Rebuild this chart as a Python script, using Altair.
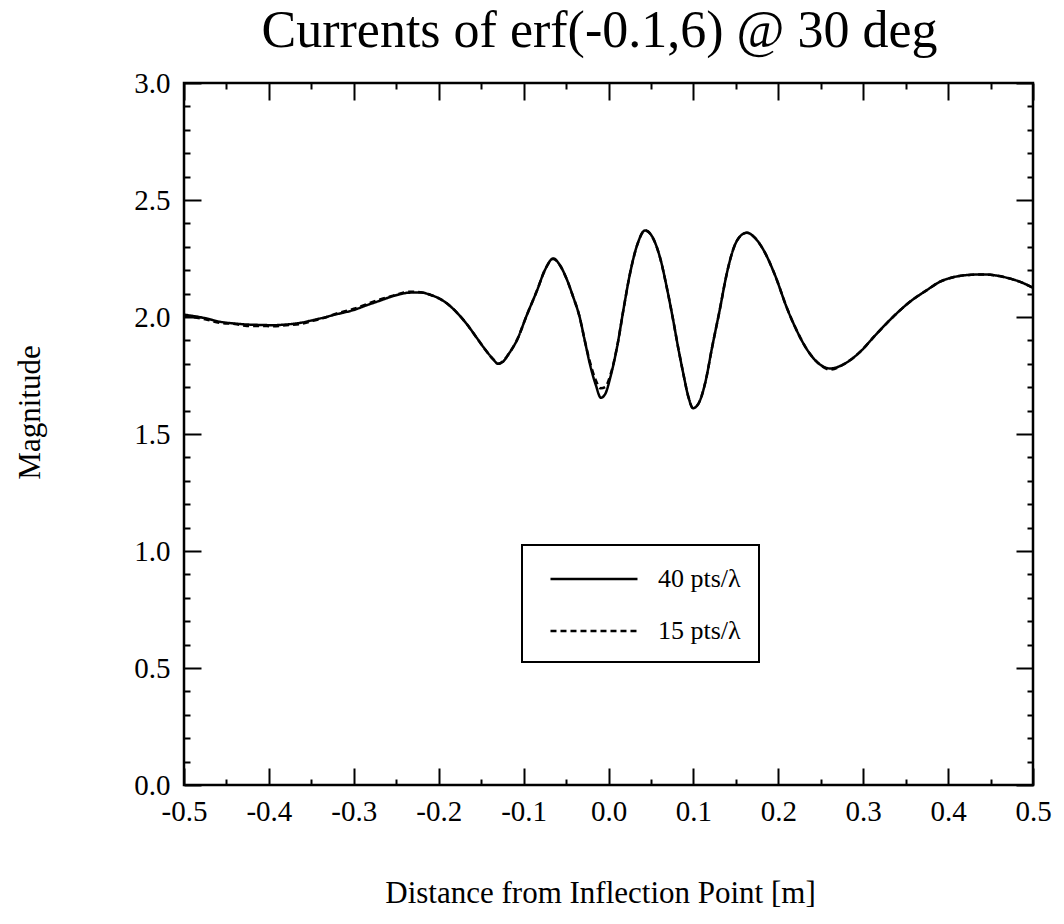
import altair as alt
import pandas as pd

# ---- data ----
x_vals = [-0.5, -0.475, -0.458, -0.44, -0.426, -0.41, -0.395, -0.38, -0.363, -0.35,
          -0.336, -0.32, -0.30, -0.285, -0.269, -0.255, -0.246, -0.235, -0.222, -0.21,
          -0.195, -0.183, -0.167, -0.155, -0.145, -0.136, -0.130, -0.124, -0.118, -0.108,
          -0.096, -0.084, -0.075, -0.065, -0.057, -0.049, -0.042, -0.034, -0.028, -0.022,
          -0.015, -0.009, -0.004, 0.002, 0.010, 0.018, 0.025, 0.034, 0.043, 0.052,
          0.061, 0.069, 0.076, 0.082, 0.088, 0.094, 0.0995, 0.106, 0.114, 0.122,
          0.131, 0.139, 0.147, 0.155, 0.163, 0.172, 0.182, 0.196, 0.210, 0.222,
          0.234, 0.248, 0.261, 0.278, 0.296, 0.315, 0.335, 0.355, 0.375, 0.39,
          0.406, 0.425, 0.441, 0.455, 0.469, 0.485, 0.5]

y_40 = [2.01, 1.995, 1.98, 1.972, 1.968, 1.966, 1.965, 1.968, 1.975, 1.985,
        1.997, 2.012, 2.03, 2.05, 2.07, 2.088, 2.097, 2.104, 2.105, 2.095,
        2.07, 2.035, 1.97, 1.91, 1.86, 1.82, 1.80, 1.81, 1.84, 1.90,
        2.01, 2.115, 2.20, 2.25, 2.22, 2.16, 2.09, 2.00, 1.90, 1.80,
        1.71, 1.655, 1.67, 1.74, 1.87, 2.04, 2.18, 2.31, 2.37, 2.34,
        2.25, 2.12, 1.99, 1.87, 1.76, 1.66, 1.61, 1.63, 1.72, 1.87,
        2.03, 2.18, 2.29, 2.345, 2.36, 2.34, 2.29, 2.18, 2.04, 1.94,
        1.86, 1.80, 1.78, 1.80, 1.85, 1.925, 2.0, 2.065, 2.115, 2.15,
        2.17, 2.18, 2.182, 2.178, 2.168, 2.15, 2.125]

y_15 = [2.005, 1.99, 1.975, 1.97, 1.962, 1.962, 1.96, 1.965, 1.97, 1.982,
        1.995, 2.015, 2.035, 2.055, 2.075, 2.09, 2.10, 2.108, 2.106, 2.095,
        2.07, 2.035, 1.97, 1.91, 1.86, 1.82, 1.80, 1.812, 1.84, 1.90,
        2.01, 2.115, 2.20, 2.248, 2.22, 2.16, 2.09, 2.00, 1.90, 1.81,
        1.73, 1.695, 1.70, 1.75, 1.87, 2.04, 2.18, 2.31, 2.37, 2.34,
        2.25, 2.12, 1.99, 1.87, 1.76, 1.66, 1.612, 1.63, 1.72, 1.87,
        2.03, 2.18, 2.29, 2.345, 2.36, 2.34, 2.29, 2.18, 2.04, 1.94,
        1.86, 1.80, 1.775, 1.80, 1.85, 1.925, 2.0, 2.065, 2.115, 2.15,
        2.17, 2.18, 2.182, 2.178, 2.168, 2.15, 2.125]

series_names = ["40 pts/\u03bb", "15 pts/\u03bb"]
chart_title = "Currents of erf(-0.1,6) @ 30 deg"

x_major = [-0.5, -0.4, -0.3, -0.2, -0.1, 0.0, 0.1, 0.2, 0.3, 0.4, 0.5]
x_minor = [-0.45, -0.35, -0.25, -0.15, -0.05, 0.05, 0.15, 0.25, 0.35, 0.45]
y_major = [0.0, 0.5, 1.0, 1.5, 2.0, 2.5, 3.0]
y_minor = [0.1, 0.2, 0.3, 0.4, 0.6, 0.7, 0.8, 0.9, 1.1, 1.2, 1.3, 1.4, 1.6, 1.7, 1.8,
           1.9, 2.1, 2.2, 2.3, 2.4, 2.6, 2.7, 2.8, 2.9]

df = pd.concat([
    pd.DataFrame({"x": x_vals, "y": y_40, "series": series_names[0]}),
    pd.DataFrame({"x": x_vals, "y": y_15, "series": series_names[1]}),
], ignore_index=True)

W, H = 849, 702
FONT = "Liberation Serif"
MAJ, MIN = 17, 6

xscale = alt.Scale(domain=[-0.5, 0.5], nice=False, zero=False)
yscale = alt.Scale(domain=[0, 3], nice=False, zero=False)

fix_minus = "replace(datum.label, '\u2212', '-')"

base = alt.Chart(df)

main = base.mark_line(color="black", strokeWidth=2.5, interpolate="monotone").encode(
    x=alt.X("x:Q", scale=xscale, axis=alt.Axis(
        orient="bottom", values=x_major, format=".1f", labelExpr=fix_minus,
        ticks=False, domain=False, grid=False, labelFont=FONT, labelFontSize=29,
        labelColor="black", labelPadding=12, labelFlush=False,
        title="Distance from Inflection Point [m]", titleFont=FONT, titleFontSize=31,
        titleFontWeight="normal", titleColor="black", titleX=416, titleY=108,
        titleBaseline="middle")),
    y=alt.Y("y:Q", scale=yscale, axis=alt.Axis(
        orient="left", values=y_major, format=".1f", ticks=False, domain=False,
        grid=False, labelFont=FONT, labelFontSize=29, labelColor="black",
        labelPadding=14, labelFlush=False,
        title="Magnitude", titleFont=FONT, titleFontSize=31, titleFontWeight="normal",
        titleColor="black", titleX=-154, titleY=329, titleBaseline="middle", titleAngle=270)),
    strokeDash=alt.StrokeDash("series:N",
        scale=alt.Scale(domain=series_names, range=[[1, 0], [6, 4]]),
        legend=alt.Legend(
            title=None, orient="none", legendX=338, legendY=462,
            symbolType="M-0.38,0H5.62", symbolSize=841, symbolStrokeWidth=2.5,
            symbolStrokeColor="black", symbolFillColor="transparent",
            labelFont=FONT, labelFontSize=26, labelColor="black", labelOffset=86,
            padding=18, fillColor="white")),
)

# chart title carried by a bare top axis (keeps it independent of tick-axis bounds)
title_layer = base.mark_point(opacity=0).encode(
    x=alt.X("x:Q", scale=xscale, axis=alt.Axis(
        orient="top", labels=False, ticks=False, domain=False, grid=False,
        title=chart_title, titleFont=FONT, titleFontSize=52, titleFontWeight="normal",
        titleColor="black", titleX=415, titleY=-37, titleAlign="center",
        titleBaseline="alphabetic")))


def tick_axis(orient, values, size):
    return alt.Axis(orient=orient, values=values, offset=-(H if orient in ("top", "bottom") else W),
                    labels=False, domain=False, grid=False, ticks=True, tickSize=size,
                    tickWidth=2, tickColor="black", title=None)


layers = [main, title_layer]
for orient in ("top", "bottom"):
    for vals, size in ((x_major, MAJ), (x_minor, MIN)):
        layers.append(base.mark_point(opacity=0).encode(
            x=alt.X("x:Q", scale=xscale, axis=tick_axis(orient, vals, size))))
for orient in ("left", "right"):
    for vals, size in ((y_major, MAJ), (y_minor, MIN)):
        layers.append(base.mark_point(opacity=0).encode(
            y=alt.Y("y:Q", scale=yscale, axis=tick_axis(orient, vals, size))))

chart = alt.layer(*layers).resolve_axis(x="independent", y="independent").properties(
    width=W, height=H,
    autosize=alt.AutoSizeParams(type="none"),
    padding={"left": 184, "top": 83, "right": 31, "bottom": 139},
    background="white",
).configure_view(stroke="black", strokeWidth=2.5).configure_legend(
    strokeColor="black", strokeWidth=2, rowPadding=23, cornerRadius=0,
    labelFont=FONT
).configure_axis(
    titleFont=FONT, labelFont=FONT, titleFontWeight="normal", titleColor="black"
).configure_axisTop(
    titleFont=FONT, titleFontWeight="normal"
).configure_text(font=FONT)

chart.save("out.html", embed_options={"renderer": "svg", "actions": False})
